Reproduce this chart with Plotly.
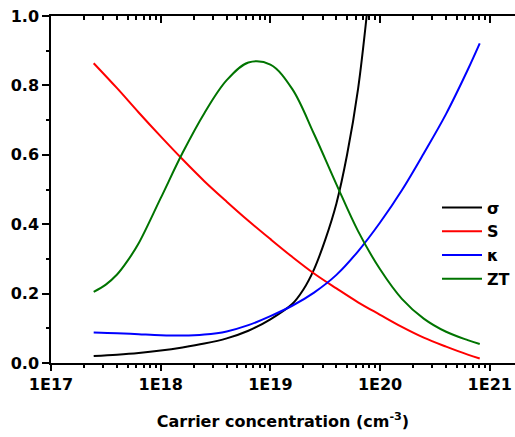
import plotly.graph_objects as go

# ---- data ----
conc = [2.45e17, 4e17, 6.3e17, 1e18, 1.58e18, 2.5e18, 4e18, 6.3e18, 1e19, 1.58e19,
        2.5e19, 4e19, 6.3e19, 1e20, 1.58e20, 2.5e20, 4e20, 6.3e20, 8.1e20]
S_vals = [0.864, 0.792, 0.722, 0.653, 0.587, 0.524, 0.465, 0.41, 0.357, 0.306,
          0.258, 0.215, 0.175, 0.139, 0.104, 0.073, 0.047, 0.024, 0.013]
kappa_vals = [0.088, 0.086, 0.083, 0.080, 0.079, 0.082, 0.091, 0.109, 0.135, 0.165,
              0.203, 0.254, 0.322, 0.405, 0.498, 0.604, 0.718, 0.845, 0.921]
zt_conc = [2.45e17, 3.16e17, 4e17, 5e17, 6.3e17, 1e18, 1.58e18, 2.5e18, 4e18, 6.3e18,
           1e19, 1.58e19, 2.5e19, 4e19, 6.3e19, 1e20, 1.58e20, 2.5e20, 4e20, 6.3e20, 8.1e20]
ZT_vals = [0.205, 0.226, 0.255, 0.295, 0.345, 0.475, 0.605, 0.72, 0.815, 0.866,
           0.86, 0.79, 0.66, 0.515, 0.38, 0.27, 0.185, 0.128, 0.09, 0.066, 0.055]
sigma_conc = [2.45e17, 4e17, 6.3e17, 1e18, 1.58e18, 2.5e18, 4e18, 6.3e18, 1e19,
              1.58e19, 2e19, 2.5e19, 3.16e19, 4e19, 5e19, 6.3e19, 7.9e19]
sigma_vals = [0.020, 0.024, 0.029, 0.036, 0.045, 0.056, 0.071, 0.093, 0.126,
              0.170, 0.212, 0.27, 0.355, 0.46, 0.60, 0.79, 1.06]

x_tickvals = [1e17, 1e18, 1e19, 1e20, 1e21]
x_ticktext = ["1E17", "1E18", "1E19", "1E20", "1E21"]
x_minor = [float(m) * 10.0 ** e for e in range(17, 21) for m in range(2, 10)]
y_tickvals = [0.0, 0.2, 0.4, 0.6, 0.8, 1.0]
y_ticktext = ["0.0", "0.2", "0.4", "0.6", "0.8", "1.0"]

series = [
    ("σ", sigma_conc, sigma_vals, "black"),
    ("S", conc, S_vals, "#ff0000"),
    ("κ", conc, kappa_vals, "#0000ff"),
    ("ZT", zt_conc, ZT_vals, "#007400"),
]

FONT = "DejaVu Sans, Liberation Sans, sans-serif"

fig = go.Figure()
for name, xs, ys, col in series:
    fig.add_trace(go.Scatter(x=xs, y=ys, mode="lines", name=name,
                             line=dict(color=col, width=2, shape="spline", smoothing=1.0)))

# invisible trace on top axis so it renders
fig.add_trace(go.Scatter(x=[1e18], y=[0.5], xaxis="x2", mode="markers",
                         marker=dict(opacity=0), showlegend=False, hoverinfo="skip"))

fig.update_layout(
    width=515, height=437,
    margin=dict(l=51, r=0, t=16, b=74),
    paper_bgcolor="white", plot_bgcolor="white",
    showlegend=True,
    legend=dict(x=0.8325, y=0.497, xanchor="left", yanchor="top",
                bgcolor="rgba(0,0,0,0)", borderwidth=0, itemwidth=40,
                font=dict(family=FONT, size=16, color="black", weight="bold"),
                tracegroupgap=0),
    xaxis=dict(type="log", range=[17, 21.23],
               tickmode="array", tickvals=x_tickvals, ticktext=x_ticktext,
               ticks="outside", ticklen=6, tickwidth=1.5, tickcolor="black",
               minor=dict(tickmode="array", tickvals=x_minor, ticks="outside",
                          ticklen=3, tickwidth=1.5, tickcolor="black"),
               showline=True, linecolor="black", linewidth=1.5,
               showgrid=False, zeroline=False,
               tickfont=dict(family=FONT, size=16, color="black", weight="bold"),
               title=dict(text="Carrier concentration (cm<sup>-3</sup>)",
                          font=dict(family=FONT, size=16, color="black", weight="bold"),
                          standoff=23)),
    xaxis2=dict(type="log", range=[17, 21.23], overlaying="x", side="top",
                tickmode="array", tickvals=x_tickvals,
                ticks="inside", ticklen=7, tickwidth=1.5, tickcolor="black",
                minor=dict(tickmode="array", tickvals=x_minor, ticks="inside",
                           ticklen=4, tickwidth=1.5, tickcolor="black"),
                showline=True, linecolor="black", linewidth=1.5,
                showgrid=False, zeroline=False, showticklabels=False),
    yaxis=dict(range=[0, 1.0], tickmode="array", tickvals=y_tickvals, ticktext=y_ticktext,
               ticks="outside", ticklen=7, tickwidth=1.5, tickcolor="black",
               minor=dict(dtick=0.1, ticks="outside", ticklen=3, tickwidth=1.5,
                          tickcolor="black"),
               showline=True, linecolor="black", linewidth=1.5,
               showgrid=False, zeroline=False,
               tickfont=dict(family=FONT, size=16, color="black", weight="bold")),
)

fig.write_html("out.html")
